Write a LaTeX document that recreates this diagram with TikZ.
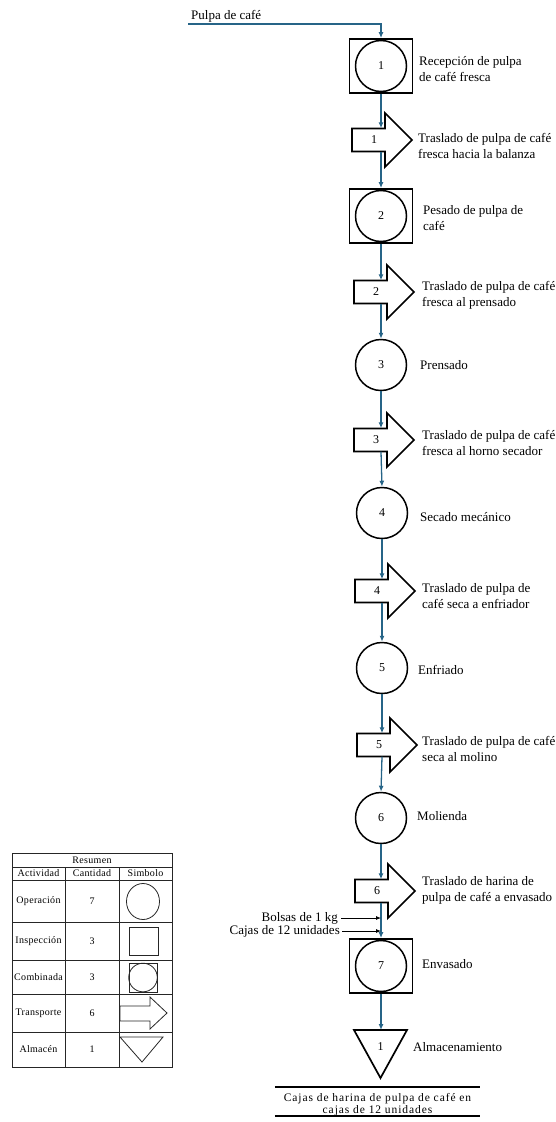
\documentclass[tikz,border=0pt]{standalone}
\usepackage{fontspec}
\setmainfont{Liberation Serif}
\usetikzlibrary{arrows.meta,calc}
\definecolor{flowc}{RGB}{38,100,135}
\tikzset{
  flow/.style={draw=flowc, line width=1.3pt, -{Latex[length=6pt,width=5pt]}},
  shapeline/.style={draw=black, line width=1.7pt, line join=miter},
  oper/.style={circle, draw, line width=1.5pt, minimum size=51pt, inner sep=0pt, font=\fontsize{12}{13}\selectfont},
  comb/.style={rectangle, draw, line width=1.8pt, minimum width=63pt, minimum height=54pt, inner sep=0pt},
  numtxt/.style={inner sep=0pt, font=\fontsize{12}{13}\selectfont},
  lbl/.style={anchor=west, align=left, inner sep=0pt, font=\fontsize{13}{16}\selectfont},
  tbl/.style={draw=black!85, line width=0.7pt},
  tbltxt/.style={inner sep=0pt, font=\fontsize{10}{11}\selectfont\addfontfeature{LetterSpace=3}},
  tblsym/.style={draw=black!85, line width=0.8pt},
  small/.style={draw=black, line width=0.8pt, -{Latex[length=5pt,width=4pt]}}
}
\newcommand\transp[4]{%
  \draw[shapeline] (#2,#3-11.5) -- (#2+33,#3-11.5) -- (#2+33,#3-27) -- (#2+60,#3) -- (#2+33,#3+27) -- (#2+33,#3+11.5) -- (#2,#3+11.5) -- cycle;
  \node[minimum width=33pt, minimum height=23pt, inner sep=0pt] (#1) at (#2+16.5,#3) {};
  \node[numtxt] (#1n) at (#2+22,#3) {#4};
}
\begin{document}
\begin{tikzpicture}[x=1pt,y=-1pt]
\useasboundingbox (0,0) rectangle (555,1122);

% start
\node[lbl, anchor=south west] (pulpa) at (191,22) {Pulpa de café};
\coordinate (start) at (188,24);

% main chain
\node[comb] (b1) at (381,66) {};
\node[oper] (c1) at (381,66) {1};
\transp{a1}{352}{140}{1}
\node[comb] (b2) at (381,216) {};
\node[oper] (c2) at (381,216) {2};
\transp{a2}{354}{292}{2}
\node[oper] (c3) at (381,365) {3};
\transp{a3}{354}{440}{3}
\node[oper] (c4) at (382,513) {4};
\transp{a4}{355}{591}{4}
\node[oper] (c5) at (382,668) {5};
\transp{a5}{357}{745}{5}
\node[oper] (c6) at (381,818) {6};
\transp{a6}{355}{891}{6}
\node[comb] (b7) at (381,966) {};
\node[oper] (c7) at (381,966) {7};
\draw[shapeline] (354,1030) -- (407,1030) -- (380.5,1078) -- cycle;
\node[numtxt] (st) at (380.5,1047) {1};
\coordinate (sttop) at (381,1030);

% connectors
\draw[flow] (start) -| (b1.north);
\draw[flow] (b1.south) -- (b1.south |- a1.north);
\draw[flow] (b1.south |- a1.south) -- (b2.north);
\draw[flow] (b2.south) -- (b2.south |- a2.north);
\draw[flow] (b2.south |- a2.south) -- (c3.north);
\draw[flow] (c3.south) -- (c3.south |- a3.north);
\draw[flow] (c3.south |- a3.south) -- (c4.north);
\draw[flow] (c4.south) -- (c4.south |- a4.north);
\draw[flow] (c4.south |- a4.south) -- (c5.north);
\draw[flow] (c5.south) -- (c5.south |- a5.north);
\draw[flow] (c5.south |- a5.south) -- (c6.north);
\draw[flow] (c6.south) -- (c6.south |- a6.north);
\draw[flow] (c6.south |- a6.south) -- (b7.north);
\draw[flow] (b7.south) -- (sttop);

% inputs to packing
\node[lbl, anchor=east] (bolsas) at (338,918) {Bolsas de 1 kg};
\node[lbl, anchor=east] (cajas) at (340,931) {Cajas de 12 unidades};
\draw[small] ($(bolsas.east)+(3,0)$) -- (bolsas.east -| b7.north);
\draw[small] ($(cajas.east)+(2,0)$) -- (cajas.east -| b7.north);

% labels
\node[lbl] (l1) at (419,69) {Recepción de pulpa\\de café fresca};
\node[lbl] (t1) at (418,146) {Traslado de pulpa de café\\fresca hacia la balanza};
\node[lbl] (l2) at (423,218) {Pesado de pulpa de\\café};
\node[lbl] (t2) at (422,295) {Traslado de pulpa de café\\fresca al prensado};
\node[lbl] (l3) at (420,365) {Prensado};
\node[lbl] (t3) at (422,443) {Traslado de pulpa de café\\fresca al horno secador};
\node[lbl] (l4) at (420,517) {Secado mecánico};
\node[lbl] (t4) at (422,596) {Traslado de pulpa de\\café seca a enfriador};
\node[lbl] (l5) at (418,670) {Enfriado};
\node[lbl] (t5) at (422,749) {Traslado de pulpa de café\\seca al molino};
\node[lbl] (l6) at (417,816) {Molienda};
\node[lbl] (t6) at (422,890) {Traslado de harina de\\pulpa de café a envasado};
\node[lbl] (l7) at (422,964) {Envasado};
\node[lbl] (l8) at (413,1047) {Almacenamiento};

% output
\node[inner sep=0pt, minimum width=205pt, minimum height=29pt] (outbox) at (377.5,1101.5) {};
\node[align=center, inner sep=0pt, font=\fontsize{11.5}{12}\selectfont\addfontfeature{LetterSpace=8}] (outtxt) at (377.5,1105) {Cajas de harina de pulpa de café en\\cajas de 12 unidades};
\draw[line width=1.5pt] (outbox.north west) -- (outbox.north east);
\draw[line width=1.5pt] (outbox.south west) -- (outbox.south east);

% summary table
\draw[tbl] (12,853) rectangle (172,1067);
\foreach \yy in {867,880,922,960,994,1032} \draw[tbl] (12,\yy) -- (172,\yy);
\draw[tbl] (65,867) -- (65,1067);
\draw[tbl] (119,867) -- (119,1067);
\node[tbltxt] (tr) at (92,860) {Resumen};
\node[tbltxt] (th1) at (38.5,873.5) {Actividad};
\node[tbltxt] (th2) at (92,873.5) {Cantidad};
\node[tbltxt] (th3) at (145.5,873.5) {Simbolo};
\node[tbltxt] (r1a) at (38.5,901) {Operación};
\node[tbltxt] (r1b) at (92,901) {7};
\node[tbltxt] (r2a) at (38.5,941) {Inspección};
\node[tbltxt] (r2b) at (92,941) {3};
\node[tbltxt] (r3a) at (38.5,977) {Combinada};
\node[tbltxt] (r3b) at (92,977) {3};
\node[tbltxt] (r4a) at (38.5,1013) {Transporte};
\node[tbltxt] (r4b) at (92,1013) {6};
\node[tbltxt] (r5a) at (38.5,1049.5) {Almacén};
\node[tbltxt] (r5b) at (92,1049.5) {1};
% symbols
\draw[tblsym] (143,901.5) ellipse (16.5 and 18);
\draw[tblsym] (129,927) rectangle (158,955);
\draw[tblsym] (129,963) rectangle (157,992);
\draw[tblsym] (143,977.5) circle (14.3);
\draw[tblsym] (120,1006) -- (150,1006) -- (150,997) -- (167,1013) -- (150,1029) -- (150,1021) -- (120,1021) -- cycle;
\draw[tblsym] (120,1037) -- (163,1037) -- (142,1062) -- cycle;
\end{tikzpicture}
\end{document}
